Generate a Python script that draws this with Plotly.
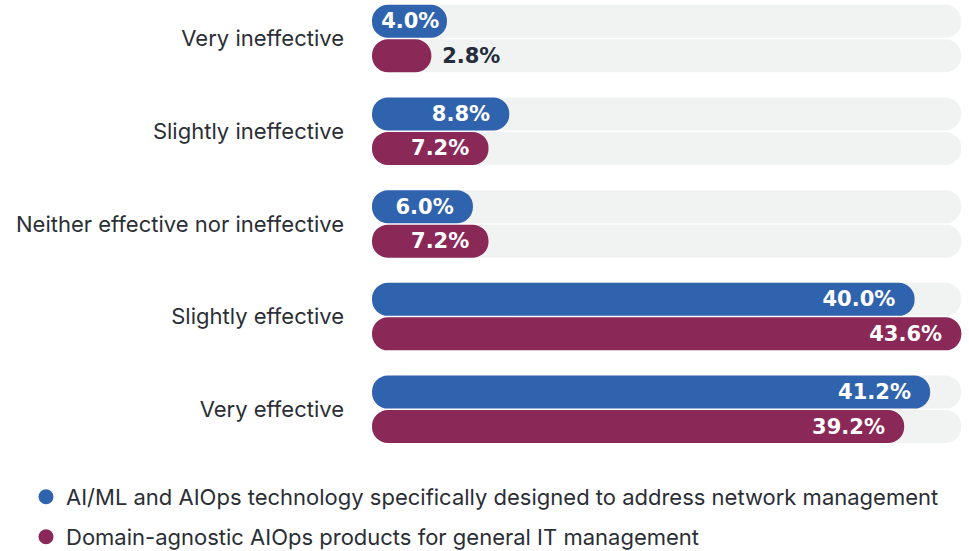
import plotly.graph_objects as go

categories = [
    "Very ineffective",
    "Slightly ineffective",
    "Neither effective nor ineffective",
    "Slightly effective",
    "Very effective",
]
network_specific = [4.0, 8.8, 6.0, 40.0, 41.2]
domain_agnostic = [2.8, 7.2, 7.2, 43.6, 39.2]
series_names = [
    "AI/ML and AIOps technology specifically designed to address network management",
    "Domain-agnostic AIOps products for general IT management",
]

BLUE = "#3063ae"
MAGENTA = "#8a2858"
TRACK = "#f1f3f3"
DARK = "#252c3b"
LABEL = "#2b2e35"

CAP = 1.77          # rounded left cap length (data units)
BAR_W = 0.356       # bar thickness (category units)
GAP = 0.016
PAD_IN = 1.25       # extra inner padding for labels (data units)
PAD_SMALL = 0.35    # inner padding for short bars
PAD_OUT = 0.6       # extra outer gap for outside labels (data units)
track_max = max(network_specific + domain_agnostic)

fig = go.Figure()

series = [network_specific, domain_agnostic]
colors = [BLUE, MAGENTA]
offsets = [-BAR_W - GAP / 2, GAP / 2]

common = dict(orientation="h", width=BAR_W, showlegend=False, hoverinfo="skip")

# background tracks
for k in range(2):
    fig.add_trace(go.Bar(y=categories, x=[track_max + CAP] * len(categories), base=-CAP,
                         offset=offsets[k], marker=dict(color=TRACK, line=dict(width=0)), **common))
# bars
for k in range(2):
    fig.add_trace(go.Bar(y=categories, x=[v + CAP for v in series[k]], base=-CAP,
                         offset=offsets[k], marker=dict(color=colors[k], line=dict(width=0)),
                         **common))


def label_shift(v):
    if v < 3.5:
        return PAD_OUT
    if v < 5:
        return -PAD_SMALL
    return -PAD_IN


# value labels (transparent carrier bars)
for k in range(2):
    vals = series[k]
    fig.add_trace(go.Bar(
        y=categories,
        x=[v + CAP + label_shift(v) for v in vals],
        base=-CAP, offset=offsets[k],
        marker=dict(color="rgba(0,0,0,0)", line=dict(width=0), cornerradius=0),
        text=[f"{v:.1f}%" for v in vals],
        textposition=["outside" if v < 3.5 else "inside" for v in vals],
        insidetextanchor="end", constraintext="none", cliponaxis=False,
        insidetextfont=dict(family="DejaVu Sans", size=21, color="white", weight="bold"),
        outsidetextfont=dict(family="DejaVu Sans", size=21, color=DARK, weight="bold"),
        **common))

# legend entries
for k, leg in enumerate(["legend", "legend2"]):
    fig.add_trace(go.Scatter(x=[None], y=[None], mode="markers", name=series_names[k],
                             marker=dict(symbol="circle", size=15, color=colors[k]),
                             legend=leg, hoverinfo="skip"))

PL, PR, PT, PB = 372, 962, 0, 445
def px_x(x):
    return (x - PL) / (PR - PL)
def px_y(y):
    return (PB - y) / (PB - PT)

legend_font = dict(family="Inter", size=22, color=LABEL)
fig.update_layout(
    width=969, height=551,
    margin=dict(l=PL, r=969 - PR, t=PT, b=551 - PB, pad=0, autoexpand=False),
    barmode="overlay", barcornerradius="50%",
    plot_bgcolor="white", paper_bgcolor="white",
    xaxis=dict(range=[-CAP, track_max + 0.05], visible=False, fixedrange=True),
    yaxis=dict(type="category", categoryorder="array", categoryarray=categories,
               range=[4.385, -0.415], showgrid=False, zeroline=False, showline=False,
               ticks="", ticklabelstandoff=27, fixedrange=True,
               tickfont=dict(family="Inter", size=22, color=LABEL)),
    legend=dict(x=px_x(26), y=px_y(497), xanchor="left", yanchor="middle",
                font=legend_font, bgcolor="rgba(0,0,0,0)", borderwidth=0),
    legend2=dict(x=px_x(26), y=px_y(537), xanchor="left", yanchor="middle",
                 font=legend_font, bgcolor="rgba(0,0,0,0)", borderwidth=0),
)

fig.write_html("out.html", config={"displayModeBar": False},
               post_script="document.body.style.margin='0';")
